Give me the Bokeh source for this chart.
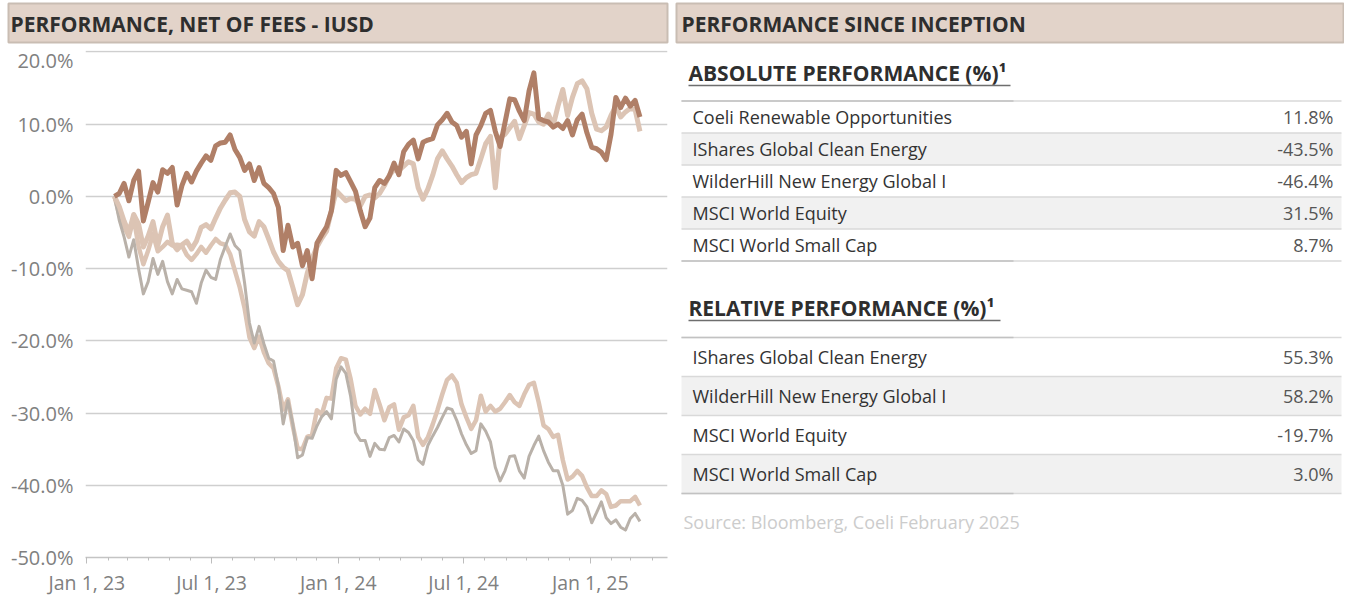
import pandas as pd
from bokeh.plotting import figure
from bokeh.layouts import row, column
from bokeh.models import Range1d, FixedTicker, PrintfTickFormatter, DatetimeTickFormatter
from bokeh.core.properties import value
from bokeh.embed import file_html
from bokeh.resources import INLINE

# ---------------- data ----------------
start_date = "2023-02-10"
n_points = 110
dates = pd.date_range(start_date, periods=n_points, freq="7D")

coeli = [0, 0.4, 1.8, -0.6, 2.2, 3.5, -3.4, -0.8, 1.9, 0.6,
         3.7, 3.2, 4.0, -1.2, 1.5, 3.2, 2.0, 3.5, 4.6, 5.6,
         5.0, 7.0, 7.4, 7.5, 8.5, 6.5, 5.4, 3.6, 4.5, 2.2,
         4.0, 1.8, 1.2, 0.4, -1.5, -7.5, -4.0, -7.0, -6.5, -9.6,
         -7.5, -11.4, -6.5, -5.3, -4.2, -2.0, 3.6, 2.9, 3.3, 2.0,
         0.7, -2.0, -4.2, -3.0, 1.2, 2.2, 1.8, 2.8, 4.6, 3.0,
         6.2, 7.2, 7.8, 5.2, 7.5, 7.8, 8.0, 9.9, 10.6, 11.5,
         10.3, 9.8, 8.2, 9.0, 4.5, 8.5, 9.8, 11.5, 11.9, 9.0,
         6.9, 10.2, 13.5, 13.4, 11.8, 10.5, 14.6, 17.1, 10.8, 10.5,
         10.3, 9.6, 10.0, 9.4, 10.5, 8.5, 10.6, 11.4, 8.8, 6.8,
         6.6, 6.1, 5.1, 8.6, 13.7, 12.3, 13.6, 12.5, 13.3, 11.0]

small_cap = [0, -1.4, -3.4, -5.0, -2.5, -3.8, -7.0, -5.5, -3.5, -6.8,
             -4.2, -2.6, -6.5, -7.4, -6.7, -6.2, -7.3, -6.2, -4.3, -3.9,
             -4.5, -3.0, -1.6, -0.5, 0.5, 0.6, 0.0, -3.2, -4.9, -5.5,
             -3.5, -4.2, -5.9, -7.7, -9.0, -9.8, -10.3, -12.6, -15.0, -13.6,
             -10.6, -8.6, -7.0, -5.8, -4.8, -2.0, 0.8, 0.1, -0.6, -0.3,
             -0.4, -1.3, 0.0, 0.2, -0.2, 0.4, 1.5, 2.9, 3.7, 3.6,
             4.2, 4.8, 4.5, 1.2, -0.4, 1.0, 2.9, 5.2, 6.3, 5.2,
             4.2, 3.0, 1.9, 2.6, 3.0, 3.2, 5.2, 7.3, 8.3, 1.2,
             8.2, 8.6, 9.5, 10.4, 8.0, 9.8, 11.6, 11.4, 10.3, 10.0,
             11.4, 9.8, 12.5, 14.8, 11.2, 13.7, 15.6, 16.0, 14.9, 11.5,
             9.3, 9.1, 9.6, 11.2, 12.5, 11.0, 11.7, 12.2, 12.0, 9.0]

ishares = [0, -2.5, -4.2, -5.6, -3.0, -6.9, -9.4, -7.5, -5.2, -7.6,
           -7.0, -6.3, -6.8, -6.7, -6.8, -8.1, -8.8, -8.0, -7.0, -7.8,
           -6.8, -5.9, -6.5, -6.7, -8.0, -10.3, -12.6, -15.5, -19.5, -21.0,
           -19.4, -21.6, -23.1, -23.8, -26.3, -29.5, -28.1, -31.8, -34.9, -35.0,
           -33.3, -33.0, -29.6, -30.2, -27.9, -28.0, -23.8, -22.4, -22.6, -25.3,
           -29.0, -30.2, -29.4, -30.1, -26.8, -28.8, -31.0, -29.2, -28.8, -32.3,
           -30.6, -30.3, -29.0, -33.3, -34.4, -33.4, -31.6, -29.6, -27.4, -25.4,
           -24.8, -25.8, -28.8, -30.6, -32.2, -31.0, -27.6, -29.8, -29.0, -29.8,
           -29.4, -28.5, -27.5, -28.5, -29.0, -27.4, -26.1, -25.8, -28.5, -31.7,
           -32.2, -33.3, -33.0, -36.5, -39.2, -38.8, -38.0, -38.7, -40.3, -41.5,
           -41.5, -40.7, -41.2, -43.0, -42.8, -42.2, -42.2, -42.2, -41.6, -42.8]

wilderhill = [0, -3.3, -5.6, -8.4, -6.0, -10.0, -13.5, -11.8, -8.6, -10.8,
              -9.0, -11.8, -13.5, -11.5, -12.8, -13.0, -13.2, -14.8, -12.0, -10.2,
              -11.2, -11.5, -8.7, -6.9, -5.2, -6.8, -7.5, -12.0, -17.5, -20.3,
              -18.0, -20.4, -22.4, -22.8, -26.2, -31.5, -28.3, -31.5, -36.2, -35.8,
              -33.4, -33.5, -31.8, -30.5, -29.8, -30.8, -25.3, -23.6, -24.5, -27.7,
              -32.7, -33.8, -33.8, -36.0, -34.2, -35.0, -35.1, -33.4, -33.1, -34.0,
              -32.2, -32.7, -33.8, -36.5, -37.1, -34.5, -33.2, -32.0, -30.6, -29.3,
              -29.5, -31.0, -32.9, -34.4, -35.6, -35.2, -31.5, -32.5, -34.0, -37.5,
              -39.4, -38.0, -36.0, -35.9, -38.0, -39.0, -36.0, -34.5, -33.2, -35.2,
              -36.8, -38.0, -38.0, -40.0, -44.0, -43.5, -41.8, -42.1, -43.0, -45.2,
              -43.8, -42.3, -44.5, -45.3, -44.8, -45.8, -46.2, -44.6, -43.9, -45.0]

y_ticks = [-50, -40, -30, -20, -10, 0, 10, 20]
x_major_dates = ["2023-01-01", "2023-07-01", "2024-01-01", "2024-07-01", "2025-01-01"]
x_major_labels = ["Jan 1, 23", "Jul 1, 23", "Jan 1, 24", "Jul 1, 24", "Jan 1, 25"]

left_title = "PERFORMANCE, NET OF FEES - IUSD"
right_title = "PERFORMANCE SINCE INCEPTION"
abs_title = "ABSOLUTE PERFORMANCE (%)\u00b9"
abs_labels = ["Coeli Renewable Opportunities", "IShares Global Clean Energy",
              "WilderHill New Energy Global I", "MSCI World Equity", "MSCI World Small Cap"]
abs_values = ["11.8%", "-43.5%", "-46.4%", "31.5%", "8.7%"]
rel_title = "RELATIVE PERFORMANCE (%)\u00b9"
rel_labels = ["IShares Global Clean Energy", "WilderHill New Energy Global I",
              "MSCI World Equity", "MSCI World Small Cap"]
rel_values = ["55.3%", "58.2%", "-19.7%", "3.0%"]
source_note = "Source: Bloomberg, Coeli February 2025"

# ---------------- style ----------------
FONT = value("Open Sans")
HDR_FILL = "#e2d3c9"
HDR_LINE = "#c9bdb3"
DARK = "#2e2e2e"
C_COELI = "#b07f67"
C_TAN = "#dcc4b4"
C_GRAY = "#b9b1a9"
TICK_COLOR = "#808080"


def ms(d):
    return int(pd.Timestamp(d).value // 10**6)


def blank(width, height, x0, x1, y0, y1):
    f = figure(width=width, height=height, x_range=Range1d(x0, x1), y_range=Range1d(y1, y0),
               toolbar_location=None, output_backend="svg", min_border=0,
               x_axis_location=None, y_axis_location=None, outline_line_color=None,
               frame_align=False)
    f.grid.visible = False
    return f


# ---------------- left header ----------------
hdr = blank(671, 46, 0, 671, 0, 46)
hdr.quad(left=[8], right=[667], top=[3], bottom=[42], fill_color=HDR_FILL,
         line_color=HDR_LINE, line_width=2)
hdr.text(x=[10], y=[23], text=[left_title], text_font=FONT, text_font_style="bold",
         text_font_size="21px", text_color=DARK, text_baseline="middle")

# ---------------- chart ----------------
p = figure(width=671, height=552, x_axis_type="datetime",
           x_range=Range1d(pd.Timestamp("2022-12-30"), pd.Timestamp("2025-04-23")),
           y_range=Range1d(-50, 20.2),
           toolbar_location=None, output_backend="svg", frame_align=False,
           min_border_left=85, min_border_right=4, min_border_top=4, min_border_bottom=38,
           outline_line_color=None)
p.xgrid.visible = False
p.ygrid.grid_line_color = "#cfcfcf"
p.ygrid.grid_line_width = 1.5

p.line(dates, ishares, line_color=C_TAN, line_width=4.5, line_join="round")
p.line(dates, wilderhill, line_color=C_GRAY, line_width=3, line_join="round")
p.line(dates, small_cap, line_color=C_TAN, line_width=5, line_join="round")
p.line(dates, coeli, line_color=C_COELI, line_width=5, line_join="round")

p.yaxis.ticker = FixedTicker(ticks=y_ticks)
p.yaxis.formatter = PrintfTickFormatter(format="%.1f%%")
p.yaxis.axis_line_color = None
p.yaxis.major_tick_line_color = None
p.yaxis.minor_tick_line_color = None
p.yaxis.major_label_standoff = 6
p.yaxis.major_label_text_font = "Open Sans"
p.yaxis.major_label_text_font_size = "20px"
p.yaxis.major_label_text_color = TICK_COLOR

minor = [ms(d) for d in pd.date_range("2023-01-01", "2025-04-01", freq="MS")]
p.xaxis.ticker = FixedTicker(ticks=[ms(d) for d in x_major_dates], minor_ticks=minor)
p.xaxis.formatter = DatetimeTickFormatter(months="%b %d, %y", days="%b %d, %y")
p.xaxis.major_label_overrides = {ms(d): lab for d, lab in zip(x_major_dates, x_major_labels)}
p.xaxis.axis_line_color = "#c4c4c4"
p.xaxis.axis_line_width = 1.5
p.xaxis.major_tick_line_color = "#bdbdbd"
p.xaxis.minor_tick_line_color = "#bdbdbd"
p.xaxis.major_tick_in = 0
p.xaxis.major_tick_out = 6
p.xaxis.minor_tick_in = 0
p.xaxis.minor_tick_out = 3
p.xaxis.major_label_standoff = 5
p.xaxis.major_label_text_font = "Open Sans"
p.xaxis.major_label_text_font_size = "19.5px"
p.xaxis.major_label_text_color = TICK_COLOR

# ---------------- right panel ----------------
t = blank(673, 598, 671, 1344, 0, 598)
t.quad(left=[676], right=[1343], top=[3], bottom=[42], fill_color=HDR_FILL,
       line_color=HDR_LINE, line_width=2)
t.text(x=[681], y=[23], text=[right_title], text_font=FONT, text_font_style="bold",
       text_font_size="21px", text_color=DARK, text_baseline="middle")

L, R = 681, 1341


def section(title, title_y, underline_end, top, row_h, labels, values):
    t.text(x=[688], y=[title_y], text=[title], text_font=FONT, text_font_style="bold",
           text_font_size="21px", text_color=DARK, text_baseline="middle")
    t.segment(x0=[688], y0=[title_y + 13], x1=[underline_end], y1=[title_y + 13],
              line_color="#6e6e6e", line_width=1.5)
    n = len(labels)
    tops = [top + i * row_h for i in range(n)]
    shaded = [tp for i, tp in enumerate(tops) if i % 2 == 1]
    t.quad(left=L, right=R, top=shaded, bottom=[s + row_h for s in shaded],
           fill_color="#f1f1f1", line_color=None)
    bounds = tops + [top + n * row_h]
    t.segment(x0=[L] * len(bounds), y0=bounds, x1=[R] * len(bounds), y1=bounds,
              line_color="#d9d9d9", line_width=1.5)
    t.segment(x0=[L, L], y0=[bounds[0], bounds[-1]], x1=[1013, 1013],
              y1=[bounds[0], bounds[-1]], line_color="#c2c2c2", line_width=1.5)
    centers = [tp + row_h / 2 for tp in tops]
    t.text(x=[692] * n, y=centers, text=labels, text_font=FONT, text_font_size="18px",
           text_color="#333333", text_baseline="middle")
    t.text(x=[1333] * n, y=centers, text=values, text_font=FONT, text_font_size="18px",
           text_color="#555555", text_baseline="middle", text_align="right")


section(abs_title, 72, 1010, 100.5, 32, abs_labels, abs_values)
section(rel_title, 307, 1000, 337, 39, rel_labels, rel_values)

t.text(x=[683], y=[521], text=[source_note], text_font=FONT, text_font_size="18px",
       text_color="#cccccc", text_baseline="middle")

layout = row(column(hdr, p), t)
open("out.html", "w").write(file_html(layout, INLINE))
